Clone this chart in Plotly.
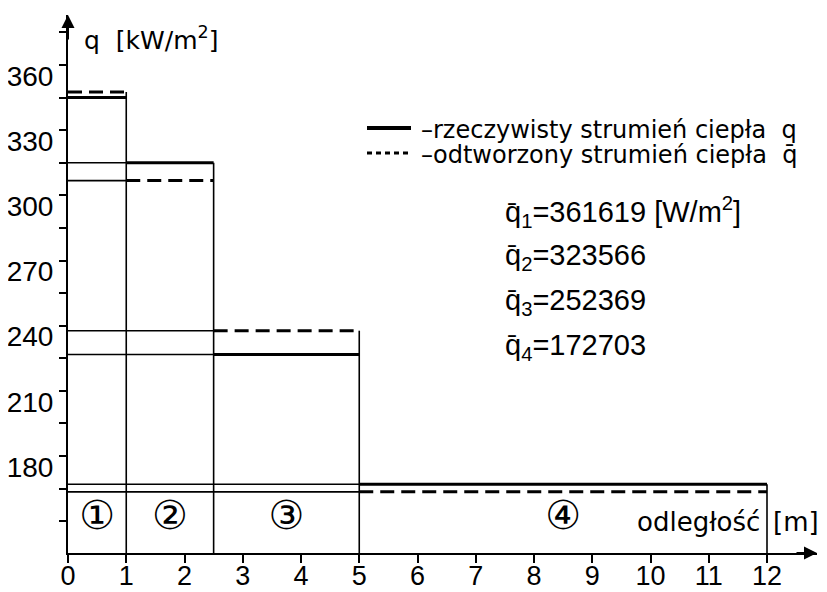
import plotly.graph_objects as go

# ---- data ----
bounds = [0, 1, 2.5, 5, 12]                       # zone boundaries [m]
q_actual = [345.0, 315.0, 226.7, 167.0]           # rzeczywisty strumień q [kW/m2]
q_recon = [347.6, 306.8, 237.7, 163.5]            # odtworzony strumień q̄ [kW/m2]
zone_labels = ["①", "②", "③", "④"]
qbar_values = ["361619", "323566", "252369", "172703"]
series_names = ["–rzeczywisty strumień ciepła  q", "–odtworzony strumień ciepła  q̄"]
x_ticks = list(range(0, 13))
y_major = [180, 210, 240, 270, 300, 330, 360]

# ---- geometry (page pixels; the page body adds an 8px offset) ----
OFF = 8
W, H = 827 - OFF, 592 - OFF
PLOT_L, PLOT_R, PLOT_T, PLOT_B = 68, 817, 15, 553      # page pixel edges of plot area
L, T = PLOT_L - OFF, PLOT_T - OFF
R, B = W - (PLOT_R - OFF), H - (PLOT_B - OFF)
X_PER = 58.25
Y_PER = 2.172
def dx(px):
    return (px - 68) / X_PER
def dy(py):
    return 180 - (py - 456) / Y_PER

y_bottom = dy(PLOT_B)
y_top = dy(PLOT_T)
x_right = dx(PLOT_R)

FONT = "DejaVu Sans, Liberation Sans, sans-serif"
DIGITS = "Liberation Sans, DejaVu Sans, sans-serif"
DASH = "14px,7px"

def segments(levels, start, stop):
    xs, ys = [], []
    for i in range(start, stop):
        xs += [bounds[i], bounds[i + 1], None]
        ys += [levels[i], levels[i], None]
    return xs, ys

fig = go.Figure()

# thin extension lines back to the axis
ex, ey = [], []
for k in range(1, len(bounds) - 1):
    for lev in (q_actual[k], q_recon[k]):
        ex += [bounds[0], bounds[k], None]
        ey += [lev, lev, None]
# vertical zone boundaries
for k in range(1, len(bounds)):
    top = max(q_actual[k - 1], q_recon[k - 1])
    ex += [bounds[k], bounds[k], None]
    ey += [y_bottom, top, None]
fig.add_trace(go.Scatter(x=ex, y=ey, mode="lines", line=dict(color="black", width=1.6),
                         showlegend=False, hoverinfo="skip"))

sx, sy = segments(q_actual, 0, 4)
fig.add_trace(go.Scatter(x=sx, y=sy, mode="lines", line=dict(color="black", width=3),
                         name=series_names[0], showlegend=False))
rx, ry = segments(q_recon, 0, 4)
fig.add_trace(go.Scatter(x=rx, y=ry, mode="lines",
                         line=dict(color="black", width=3, dash=DASH),
                         name=series_names[1], showlegend=False))

# zone numbers
fig.add_trace(go.Scatter(
    x=[(bounds[i] + bounds[i + 1]) / 2 for i in range(4)],
    y=[dy(519)] * 4, mode="text", text=zone_labels,
    textfont=dict(size=40, color="black", family="DejaVu Sans, Noto Sans CJK SC, sans-serif"),
    showlegend=False, hoverinfo="skip"))

annotations = []
shapes = []
# hand-made legend
for i, (name, dash, width) in enumerate(zip(series_names, ["solid", "5px,4px"], [4, 3])):
    yl = dy(128 + 25 * i)
    shapes.append(dict(type="line", xref="x", yref="y", x0=dx(367), x1=dx(411), y0=yl, y1=yl,
                       line=dict(color="black", width=width, dash=dash)))
    annotations.append(dict(x=dx(419), y=dy(130 + 25 * i), xref="x", yref="y", text=name,
                            showarrow=False, xanchor="left", yanchor="middle",
                            font=dict(size=24, family=FONT, color="black")))
# q-bar values
for i, v in enumerate(qbar_values):
    txt = f"q̄<sub>{i+1}</sub>={v}"
    if i == 0:
        txt += " [W/m<sup>2</sup>]"
    annotations.append(dict(x=dx(503), y=dy(212 + 45 * i), xref="x", yref="y",
                            text=txt, showarrow=False, xanchor="left", yanchor="middle",
                            font=dict(size=29, family=DIGITS, color="black")))
# axis titles
annotations.append(dict(x=dx(82), y=dy(38), xref="x", yref="y", text="q  [kW/m<sup>2</sup>]",
                        showarrow=False, xanchor="left", yanchor="middle",
                        font=dict(size=25, family=FONT, color="black")))
annotations.append(dict(x=dx(762), y=dy(522), xref="x", yref="y", text="odległość",
                        showarrow=False, xanchor="right", yanchor="middle",
                        font=dict(size=26, family=FONT, color="black")))
annotations.append(dict(x=dx(771), y=dy(522), xref="x", yref="y", text="[m]",
                        showarrow=False, xanchor="left", yanchor="middle",
                        font=dict(size=26, family=FONT, color="black")))
# axis arrows
annotations.append(dict(x=x_right, y=y_bottom, xref="x", yref="y", ax=-22, ay=0, text="",
                        showarrow=True, arrowhead=2, arrowsize=1.3, arrowwidth=2, arrowcolor="black"))
annotations.append(dict(x=0, y=y_top, xref="x", yref="y", ax=0, ay=26, text="",
                        showarrow=True, arrowhead=2, arrowsize=1.3, arrowwidth=2, arrowcolor="black"))

fig.update_layout(
    width=W, height=H,
    margin=dict(l=L, r=R, t=T, b=B, autoexpand=False),
    paper_bgcolor="white", plot_bgcolor="white",
    showlegend=False,
    xaxis=dict(range=[0, x_right], tickvals=x_ticks, ticks="outside", ticklen=8, tickwidth=2,
               tickcolor="black", showline=True, linecolor="black", linewidth=2,
               showgrid=False, zeroline=False, automargin=False, ticklabelstandoff=-10,
               tickfont=dict(size=27, family=DIGITS, color="black")),
    yaxis=dict(range=[y_bottom, y_top], tickvals=y_major, ticks="outside", ticklen=7,
               tickwidth=2, tickcolor="black", showline=True, linecolor="black", linewidth=2,
               showgrid=False, zeroline=False, automargin=False,
               ticklabelposition="outside", ticklabelshift=11,
               minor=dict(dtick=15, tick0=0, ticks="outside", ticklen=7, tickwidth=2,
                          tickcolor="black", showgrid=False),
               tickfont=dict(size=28, family=DIGITS, color="black")),
    annotations=annotations,
    shapes=shapes,
)

fig.write_html("out.html")
